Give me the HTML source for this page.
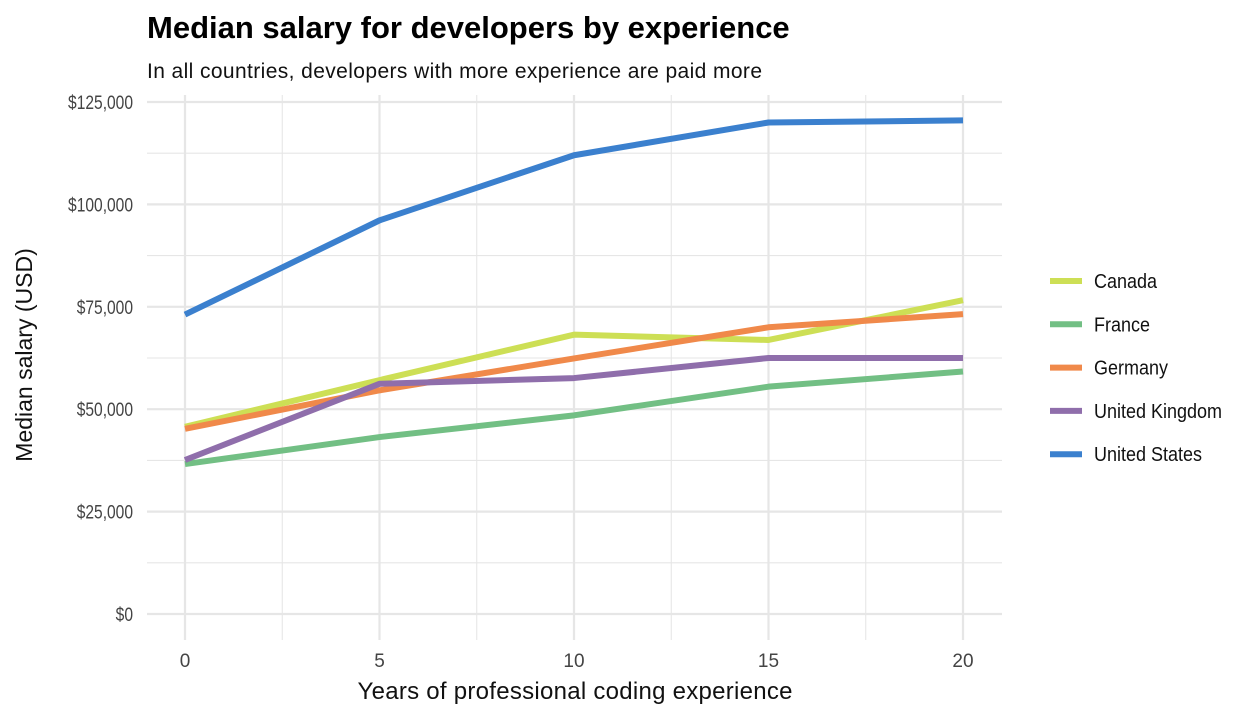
<!DOCTYPE html>
<html><head><meta charset="utf-8"><style>
body{margin:0;background:#fff;font-family:"Liberation Sans Narrow","Liberation Sans",sans-serif;}
svg text{font-family:"Liberation Sans Narrow","Liberation Sans",sans-serif;}
</style></head><body>
<svg id="c" width="1260" height="720" xmlns="http://www.w3.org/2000/svg">
<text x="147" y="38" font-size="31" font-weight="bold" font-family="Liberation Sans" fill="#000">Median salary for developers by experience</text>
<text x="147" y="78" font-size="21" textLength="615" fill="#111">In all countries, developers with more experience are paid more</text>
<g id="grid"></g><g id="lines"></g><g id="axes"></g><g id="legend"></g>
<text x="575" y="699" font-size="24" text-anchor="middle" textLength="435" fill="#111">Years of professional coding experience</text>
<text transform="translate(32,355) rotate(-90)" font-size="23" text-anchor="middle" fill="#111">Median salary (USD)</text>
</svg>
<script>
const years=[0,5,10,15,20];
const countries=["Canada","France","Germany","United Kingdom","United States"];
const canada=[45.7,57.1,68.2,66.9,76.6];
const france=[36.6,43.2,48.5,55.5,59.2];
const germany=[45.2,54.6,62.4,70.0,73.2];
const uk=[37.6,56.2,57.6,62.5,62.5];
const us=[73.1,96.1,112.0,120.0,120.5];
const yTicks=[0,25,50,75,100,125];
const xTicks=[0,5,10,15,20];
const colors=["#cddf55","#72bf84","#f0894a","#8f6eab","#3b80ce"];
const series=[canada,france,germany,uk,us];
const NS="http://www.w3.org/2000/svg";
const X=v=>185+v*(963-185)/20;
const Y=v=>614-v*(614-102)/125;
function mk(t,a,p){const e=document.createElementNS(NS,t);for(const k in a)e.setAttribute(k,a[k]);p.appendChild(e);return e;}
const grid=document.getElementById('grid'),lines=document.getElementById('lines'),axes=document.getElementById('axes'),leg=document.getElementById('legend');
for(let v=-2.5;v<=22.5;v+=2.5){const major=v%5===0;if(v<-1.9||v>22)continue;
 const l=mk('line',{x1:X(v),x2:X(v),y1:95,y2:640,stroke:'#e6e6e6','stroke-width':major?2.2:1.1},grid);
 
 }
for(let v=0;v<=125;v+=12.5){const major=v%25===0;
 const l=mk('line',{x1:147,x2:1002,y1:Y(v),y2:Y(v),stroke:'#e6e6e6','stroke-width':major?2.2:1.1},grid);
 
 }
yTicks.forEach(v=>{const t=mk('text',{x:133,y:Y(v)+7,'font-size':19,'text-anchor':'end',fill:'#444',transform:'translate(133,0) scale(0.82,1) translate(-133,0)'},axes);
 t.textContent='$'+(v*1000).toLocaleString('en-US');
 
 });
xTicks.forEach(v=>{const t=mk('text',{x:X(v),y:667,'font-size':19,'text-anchor':'middle',fill:'#444'},axes);
 t.textContent=v;
 
 });
series.forEach((s,i)=>{const p=mk('polyline',{points:s.map((v,j)=>X(years[j])+','+Y(v)).join(' '),fill:'none',stroke:colors[i],'stroke-width':6,'stroke-linejoin':'round'},lines);
 
 
 const y=281+i*43.3;
 const g=mk('g',{},leg);
 
 
 mk('line',{x1:1050,x2:1082,y1:y,y2:y,stroke:colors[i],'stroke-width':6},g);
 const t=mk('text',{x:1094,y:y+7,'font-size':20,fill:'#111',transform:'translate(1094,0) scale(0.9,1) translate(-1094,0)'},g);t.textContent=countries[i];});
</script>
</body></html>
